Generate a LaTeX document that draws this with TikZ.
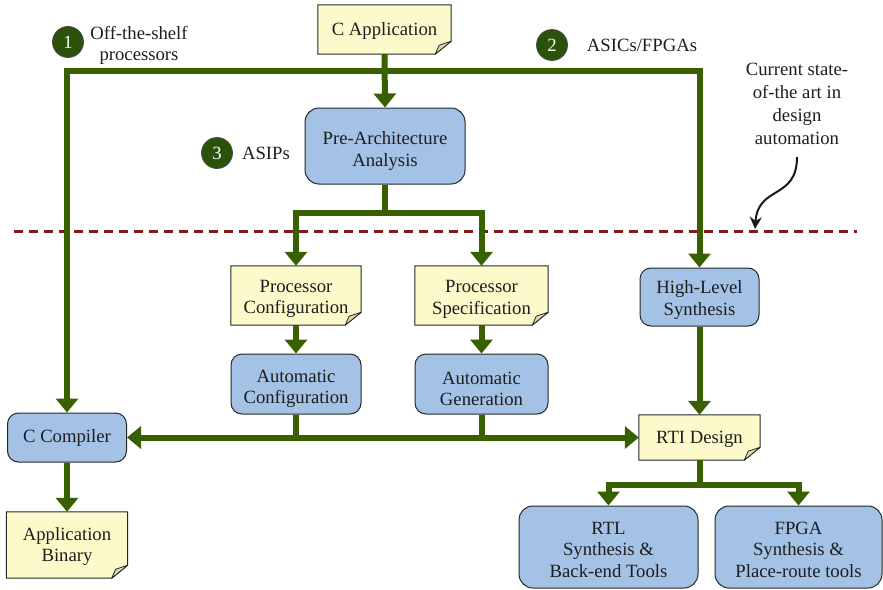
\documentclass[tikz,border=0pt]{standalone}
\usepackage{fontspec}
\setmainfont{Liberation Serif}
\newfontfamily\diagramfont{Liberation Serif}
\usetikzlibrary{arrows.meta,backgrounds}

\definecolor{flowgreen}{RGB}{56,96,0}
\definecolor{boxblue}{RGB}{164,194,230}
\definecolor{notefill}{RGB}{252,250,202}
\definecolor{foldfill}{RGB}{222,219,172}
\definecolor{linered}{RGB}{128,26,26}
\definecolor{badgegreen}{RGB}{42,82,10}
\definecolor{inkgray}{RGB}{30,30,30}

% sticky-note outline with a folded bottom-right corner
\newcommand\notebody[1]{%
  \draw[notepath] (#1.north west) -- (#1.north east) -- ([yshift=13pt]#1.south east)
    -- ([xshift=-16pt]#1.south east) -- (#1.south west) -- cycle;
  \draw[foldpath] ([xshift=-16pt]#1.south east) -- ([xshift=-12pt,yshift=9pt]#1.south east)
    -- ([yshift=13pt]#1.south east) -- cycle;}

% taller first line, so that text sits a little below the box centre
\newcommand\toppad[1][19.5pt]{\rule{0pt}{#1}}

\tikzset{
  every node/.style={font=\diagramfont\fontsize{18.7}{21.5}\selectfont, text=inkgray},
  procbox/.style={draw=black!85, line width=1pt, fill=boxblue, rounded corners=11pt,
    align=center, inner sep=0pt},
  notebox/.style={align=center, inner sep=0pt},
  notepath/.style={draw=black!85, line width=1pt, fill=notefill},
  foldpath/.style={draw=black!85, line width=0.8pt, fill=foldfill, line join=round},
  flow/.style={draw=flowgreen, line width=6pt, -{Triangle[width=22pt,length=14pt]}},
  flowplain/.style={draw=flowgreen, line width=6pt},
  badge/.style={circle, draw=black!70, line width=0.8pt, fill=badgegreen, text=white,
    minimum size=31pt, inner sep=0pt},
  plainlabel/.style={align=center, inner sep=0pt},
}

\begin{document}
\begin{tikzpicture}[x=1pt,y=-1pt]
\useasboundingbox (0,0) rectangle (883,589);

% notes (yellow) and process boxes (blue)
\node[notebox, minimum width=133pt, minimum height=49pt] (capp) at (384.5,29.5) {\toppad[16pt]C Application};
\node[procbox, minimum width=160pt, minimum height=76pt, rounded corners=14pt] (pre) at (385,146) {\toppad[23pt]Pre-Architecture\\Analysis};
\node[notebox, minimum width=130pt, minimum height=59pt] (pconf) at (296,295.5) {\toppad Processor\\Configuration};
\node[notebox, minimum width=133pt, minimum height=59pt] (pspec) at (481.5,295.5) {\toppad Processor\\Specification};
\node[procbox, minimum width=130pt, minimum height=60pt] (aconf) at (296,384) {\toppad[22pt]Automatic\\Configuration};
\node[procbox, minimum width=133pt, minimum height=60pt] (agen) at (481.5,384) {\toppad[22pt]Automatic\\Generation};
\node[procbox, minimum width=119pt, minimum height=58pt] (hls) at (699.5,297) {\toppad High-Level\\Synthesis};
\node[notebox, minimum width=121pt, minimum height=45pt] (rti) at (699.5,437.5) {\toppad[16pt]RTI Design};
\node[procbox, minimum width=119pt, minimum height=49pt] (ccomp) at (67,437.5) {C Compiler};
\node[notebox, minimum width=121pt, minimum height=66pt] (abin) at (67,545) {\toppad[16pt]Application\\Binary};
\node[procbox, minimum width=179pt, minimum height=82pt, rounded corners=14pt] (rtl) at (608.5,547) {\toppad[18pt]RTL\\Synthesis \&\\Back-end Tools};
\node[procbox, minimum width=167pt, minimum height=82pt, rounded corners=14pt] (fpga) at (798.5,547) {\toppad[18pt]FPGA\\Synthesis \&\\Place-route tools};

\begin{pgfonlayer}{background}
  \notebody{capp}
  \notebody{pconf}
  \notebody{pspec}
  \notebody{rti}
  \notebody{abin}
\end{pgfonlayer}

% separator of the current state of the art
\coordinate (sepL) at (14,231);
\coordinate (sepR) at (857,231);
\draw[linered, line width=3pt, dash pattern=on 9pt off 6pt] (sepL) -- (sepR);

% top distribution trunk
\coordinate (trunk) at (384.5,71);
\draw[flow] (capp.south) -- (pre.north);
\draw[flow] (trunk) -| (ccomp.north);
\draw[flow] (trunk) -| (hls.north);

% ASIP branch
\coordinate (split) at (385,213);
\draw[flowplain] (pre.south) -- (split);
\draw[flow] (split) -| (pconf.north);
\draw[flow] (split) -| (pspec.north);
\draw[flow] (pconf.south) -- (aconf.north);
\draw[flow] (pspec.south) -- (agen.north);

% bus to compiler and RTL design
\draw[flow, {Triangle[width=22pt,length=14pt]}-{Triangle[width=22pt,length=14pt]}] (ccomp.east) -- (rti.west);
\draw[flowplain] (aconf.south) -- (aconf.south |- rti.west);
\draw[flowplain] (agen.south) -- (agen.south |- rti.west);

\draw[flow] (hls.south) -- (rti.north);
\draw[flow] (ccomp.south) -- (abin.north);

% back-end split
\coordinate (split2) at (699.5,485);
\draw[flowplain] (rti.south) -- (split2);
\draw[flow] (split2) -| (rtl.north);
\draw[flow] (split2) -| (fpga.north);

% numbered path badges
\node[badge] (b1) at (68,42) {1};
\node[plainlabel] (l1) at (139,42) {\toppad Off-the-shelf\\processors};
\node[badge] (b2) at (552,45) {2};
\node[plainlabel] (l2) at (642,45) {ASICs/FPGAs};
\node[badge] (b3) at (217,153) {3};
\node[plainlabel] (l3) at (266,153) {ASIPs};

% annotation
\node[plainlabel, font=\diagramfont\fontsize{18.7}{23}\selectfont] (note) at (797,104) {Current state-\\of-the art in\\design\\automation};
\coordinate (tip) at (755,229);
\draw[black!90, line width=2pt, -{Stealth[width=12pt,length=12pt]}]
  (797,157) .. controls (797,200) and (758,185) .. (tip);
\end{tikzpicture}
\end{document}
